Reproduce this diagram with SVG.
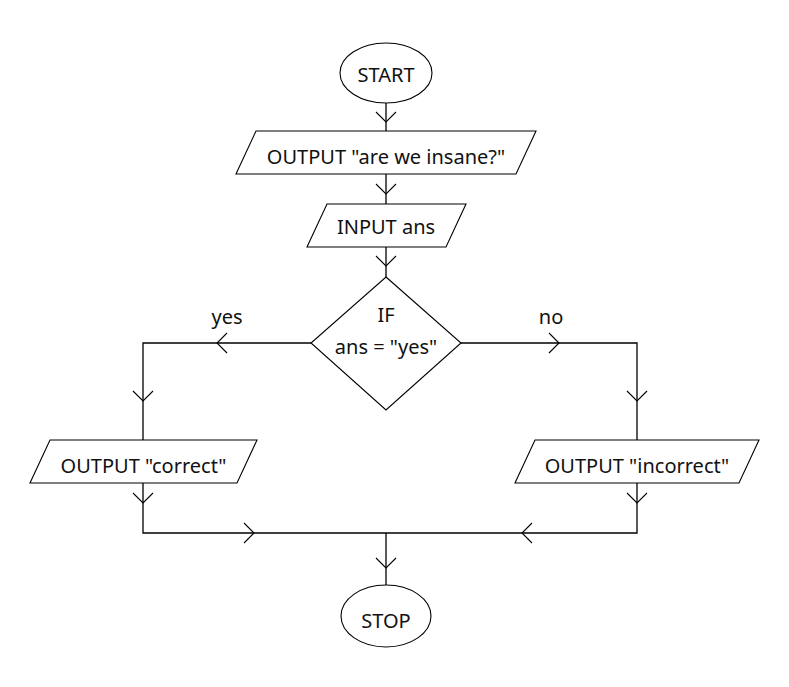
<svg xmlns="http://www.w3.org/2000/svg" width="789" height="687" viewBox="0 0 789 687">
<defs>
<style>
.shape{fill:#fff;stroke:#000;stroke-width:1.1}
.line{fill:none;stroke:#000;stroke-width:1.3}
.arr{fill:none;stroke:#000;stroke-width:1.1}
text{font-family:"Noto Sans","Open Sans","DejaVu Sans",sans-serif;font-size:20px;fill:#111;text-anchor:middle}
</style>
</defs>
<rect width="789" height="687" fill="#fff"/>
<g id="connectors">
<path class="line" d="M386,103 V131"/>
<path class="arr" d="M376,112 L386,122 L396,112"/>
<path class="line" d="M386,174 V204"/>
<path class="arr" d="M376,184 L386,194 L396,184"/>
<path class="line" d="M386,247 V277"/>
<path class="arr" d="M376,256 L386,266 L396,256"/>
<path class="line" d="M311,343 H143 V440"/>
<path class="arr" d="M227,333 L217,343 L227,353"/>
<path class="arr" d="M133,391 L143,401 L153,391"/>
<path class="line" d="M461,343 H637 V440"/>
<path class="arr" d="M549,333 L559,343 L549,353"/>
<path class="arr" d="M627,391 L637,401 L647,391"/>
<path class="line" d="M143,483 V533 H637 V483"/>
<path class="arr" d="M133,493 L143,503 L153,493"/>
<path class="arr" d="M627,493 L637,503 L647,493"/>
<path class="arr" d="M244,523 L254,533 L244,543"/>
<path class="arr" d="M532,523 L522,533 L532,543"/>
<path class="line" d="M386,533 V585"/>
<path class="arr" d="M376,558 L386,568 L396,558"/>
<text x="227" y="324">yes</text>
<text x="551" y="324">no</text>
</g>
<g id="start">
<ellipse class="shape" cx="386" cy="73" rx="46" ry="30"/>
<text x="386" y="82">START</text>
</g>
<g id="output1">
<polygon class="shape" points="256,131 536,131 516,174 236,174"/>
<text x="386" y="164">OUTPUT "are we insane?"</text>
</g>
<g id="input">
<polygon class="shape" points="327,204 466,204 446,247 307,247"/>
<text x="386" y="234">INPUT ans</text>
</g>
<g id="decision">
<polygon class="shape" points="386,277 461,343 386,410 311,343"/>
<text x="386" y="322">IF</text>
<text x="386" y="354">ans = "yes"</text>
</g>
<g id="output_correct">
<polygon class="shape" points="50,440 257,440 237,483 30,483"/>
<text x="143.5" y="473">OUTPUT "correct"</text>
</g>
<g id="output_incorrect">
<polygon class="shape" points="535,440 759,440 739,483 515,483"/>
<text x="637" y="473">OUTPUT "incorrect"</text>
</g>
<g id="stop">
<ellipse class="shape" cx="386" cy="616" rx="45" ry="31"/>
<text x="386" y="628">STOP</text>
</g>
</svg>
